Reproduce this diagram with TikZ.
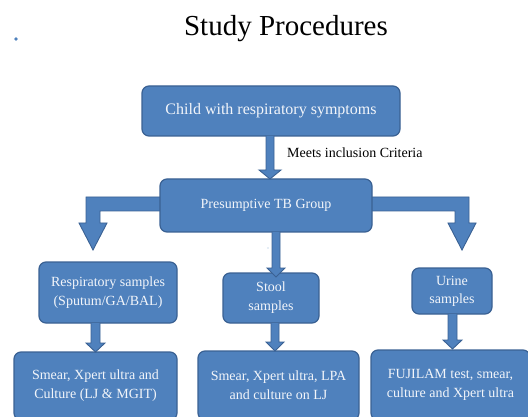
\documentclass[tikz,border=0pt]{standalone}
\usepackage{fontspec}
\setmainfont{Liberation Serif}
\definecolor{boxblue}{HTML}{4F81BD}
\definecolor{boxedge}{HTML}{3A6193}
\definecolor{boxtext}{HTML}{F2F5FA}
\tikzset{
  box/.style={draw=boxedge, fill=boxblue, line width=1.2pt, rounded corners=7pt,
    text=boxtext, align=center, inner sep=0pt, font=\fontsize{14}{19}\selectfont},
  blockarrow/.style={draw=boxedge, fill=boxblue, line width=0.9pt, line join=miter}
}
\begin{document}
\begin{tikzpicture}[x=1pt,y=-1pt]
\useasboundingbox (0,0) rectangle (528,417);
\node[anchor=base, inner sep=0pt] (title) at (286,36) {\fontsize{29}{34}\selectfont Study Procedures};
\fill[boxblue] (16,39) circle (1.8);

% bent arrows (behind group box)
\draw[blockarrow] (170,197) -- (86,197) -- (86,223) -- (79,223) -- (93,250) -- (107,223) -- (100,223) -- (100,211) -- (170,211);
\draw[blockarrow] (362,197) -- (469,197) -- (469,223) -- (476,223) -- (462,250) -- (448,223) -- (455,223) -- (455,211) -- (362,211);

\node[box, minimum width=258pt, minimum height=50pt, font=\fontsize{16}{20}\selectfont] (child) at (271,111) {Child with respiratory symptoms};
\node[box, minimum width=212pt, minimum height=53pt] (group) at (266,205.5) {Presumptive TB Group};
\node[box, minimum width=138pt, minimum height=61pt] (resp) at (108,292.5) {Respiratory samples\\(Sputum/GA/BAL)};
\node[box, minimum width=96pt, minimum height=50pt] (stool) at (271,298) {Stool\\samples};
\node[box, minimum width=80pt, minimum height=46pt, font=\fontsize{14}{18}\selectfont] (urine) at (452,291) {Urine\\samples};
\node[box, minimum width=163pt, minimum height=68pt] (respt) at (95.5,386) {Smear, Xpert ultra and\\Culture (LJ \& MGIT)};
\node[box, minimum width=161pt, minimum height=69pt] (stoolt) at (278.5,385.5) {Smear, Xpert ultra, LPA\\and culture on LJ};
\node[box, minimum width=159pt, minimum height=70pt] (urinet) at (450.5,385) {FUJILAM test, smear,\\culture and Xpert ultra};

\node[anchor=base west, inner sep=0pt, font=\fontsize{14}{17}\selectfont] (meets) at (287,158) {Meets inclusion Criteria};

% vertical block arrows
\draw[blockarrow] (266,136) -- (266,170) -- (259,170) -- (270,179) -- (281,170) -- (274,170) -- (274,136);
\draw[blockarrow] (272,232) -- (272,268) -- (267,268) -- (276,277) -- (285,268) -- (280,268) -- (280,232);
\draw[blockarrow] (91,323) -- (91,343) -- (86,343) -- (95.5,352) -- (105,343) -- (100,343) -- (100,323);
\draw[blockarrow] (271,323) -- (271,342) -- (266,342) -- (275,351) -- (284,342) -- (279,342) -- (279,323);
\draw[blockarrow] (448,314) -- (448,340) -- (443,340) -- (452.5,349) -- (462,340) -- (457,340) -- (457,314);

\fill[boxblue!60] (268,248) circle (0.7);
\end{tikzpicture}
\end{document}
